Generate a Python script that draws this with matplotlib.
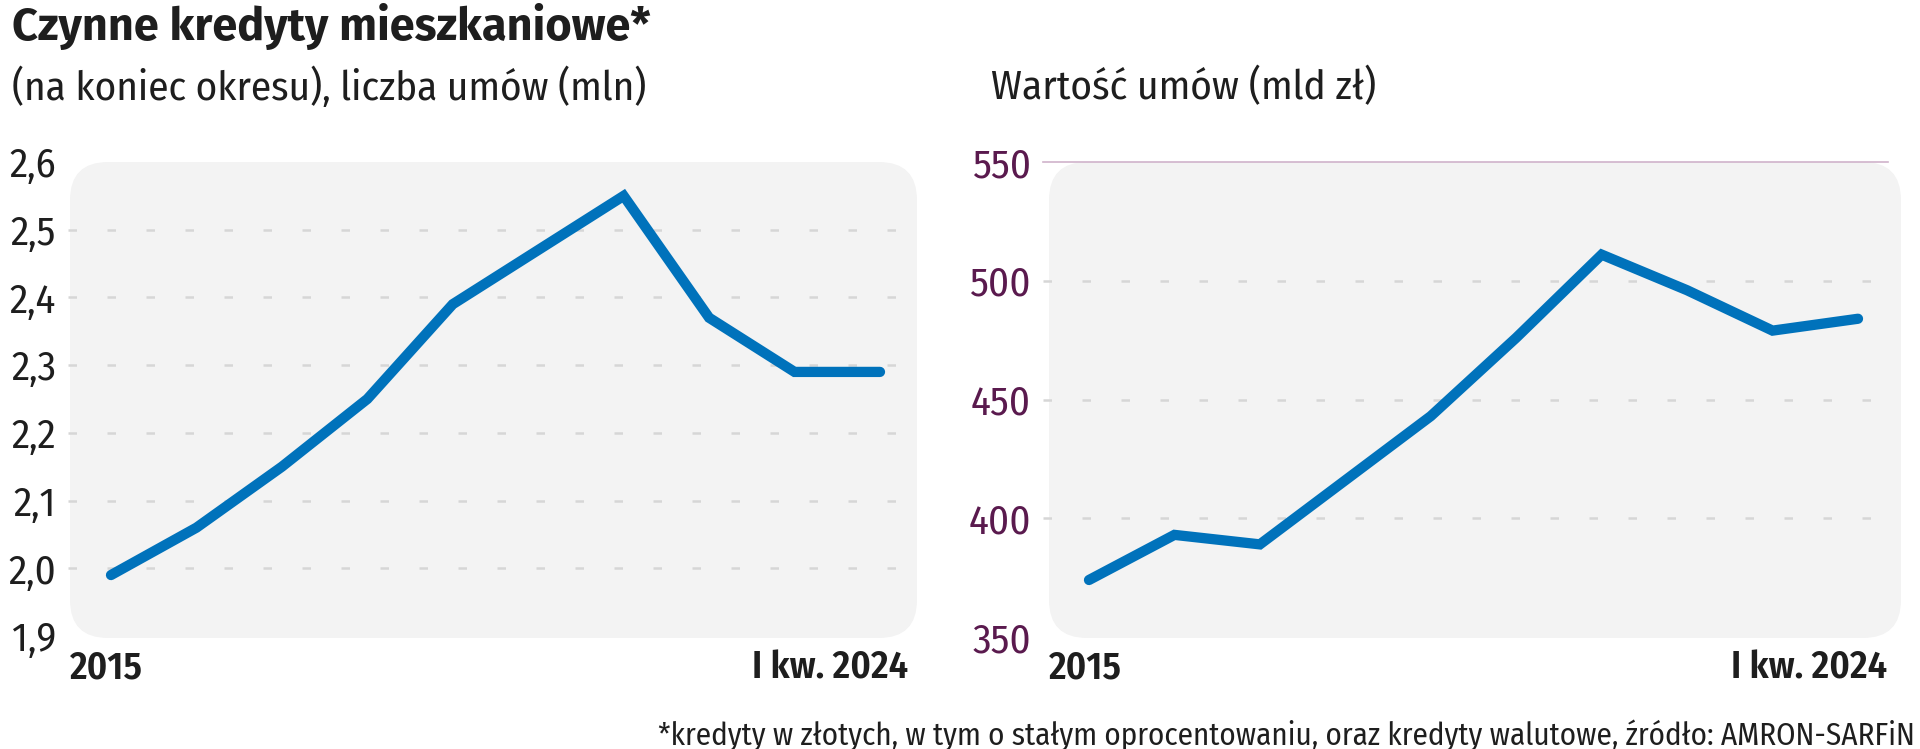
import matplotlib
matplotlib.use("Agg")
import matplotlib.pyplot as plt
from matplotlib import font_manager as fm
from matplotlib.patches import FancyBboxPatch
from matplotlib.transforms import IdentityTransform
from matplotlib.ticker import FuncFormatter

# ---------------- data ----------------
years = ["2015", "2016", "2017", "2018", "2019", "2020", "2021", "2022", "2023", "I kw. 2024"]
contracts_mln = [1.99, 2.06, 2.15, 2.25, 2.39, 2.47, 2.55, 2.37, 2.29, 2.29]
value_bln = [374, 393, 389, 416, 443, 476, 511, 496, 479, 484]
left_ticks = [1.9, 2.0, 2.1, 2.2, 2.3, 2.4, 2.5, 2.6]
right_ticks = [350, 400, 450, 500, 550]

title = "Czynne kredyty mieszkaniowe*"
subtitle_left = "(na koniec okresu), liczba umów (mln)"
subtitle_right = "Wartość umów (mld zł)"
footnote = "*kredyty w złotych, w tym o stałym oprocentowaniu, oraz kredyty walutowe, źródło: AMRON-SARFiN"

# ---------------- fonts ----------------
names = {f.name for f in fm.fontManager.ttflist}


def pick(*cands):
    for c in cands:
        if c in names:
            return c
    return "DejaVu Sans"


F_WIDE = pick("Fira Sans", "Roboto")
F_COND = pick("Fira Sans Condensed", "Roboto Condensed", "Roboto")

W, H = 1920, 749
DPI = 100
fig = plt.figure(figsize=(W / DPI, H / DPI), dpi=DPI)
fig.patch.set_facecolor("white")
ID = IdentityTransform()
renderer = fig.canvas.get_renderer()

LINE = "#0072bb"
BOX = "#f3f3f3"
GRID = "#d6d6d6"
PURPLE = "#5a1a4e"
TXT = "#1e1e1e"


def fit(t, target_w):
    w = t.get_window_extent(renderer).width
    t.set_fontsize(t.get_fontsize() * target_w / w)
    return t


def fitted_size(s, family, weight, target_w):
    t = fig.text(0, 0, s, family=family, fontweight=weight, fontsize=20)
    w = t.get_window_extent(renderer).width
    t.remove()
    return 20 * target_w / w


def px_axes(x0, x1, y_top, y_bot):
    return fig.add_axes([x0 / W, 1 - y_bot / H, (x1 - x0) / W, (y_bot - y_top) / H])


def rounded_box(x0, x1, y_top, y_bot, r=38):
    p = FancyBboxPatch((x0, H - y_bot), x1 - x0, y_bot - y_top,
                       boxstyle=f"round,pad=0,rounding_size={r}",
                       transform=ID, facecolor=BOX, edgecolor="none", zorder=-5)
    fig.patches.append(p)


TICK_FS = fitted_size("2,6", F_COND, "normal", 47)
XLAB_FS = fitted_size("I kw. 2024", F_COND, "semibold", 156)


def setup_axes(ax, xlim, ylim, ticks, fmt, color, pad):
    ax.set_xlim(*xlim)
    ax.set_ylim(*ylim)
    ax.patch.set_alpha(0)
    for s in ax.spines.values():
        s.set_visible(False)
    ax.set_xticks([])
    ax.set_yticks(ticks)
    ax.yaxis.set_major_formatter(FuncFormatter(fmt))
    ax.tick_params(axis="y", length=0, pad=pad, labelsize=TICK_FS, labelcolor=color)
    for lab in ax.get_yticklabels():
        lab.set_fontfamily(F_COND)
        lab.set_fontweight("normal")


# ---------------- left panel ----------------
LX0, LX1, TOP, BOT = 70, 917, 162, 638
rounded_box(LX0, LX1, TOP, BOT)
axL = px_axes(LX0, LX1, TOP, BOT)
ux = (880 - 111) / 9
uyL = (636 - 162) / 0.7
setup_axes(axL, (-(111 - LX0) / ux, 9 + (LX1 - 880) / ux),
           (2.6 - (BOT - TOP) / uyL, 2.6), left_ticks,
           lambda v, p: f"{v:.1f}".replace(".", ","), TXT, 14 * 0.72)
for v in left_ticks[1:-1]:
    axL.axhline(v, xmin=-2 / 847, xmax=0.994, color=GRID, lw=1.8,
                linestyle=(0, (3.4, 12.2)), clip_on=False, zorder=1)
axL.plot(range(len(years)), contracts_mln, color=LINE, lw=7.4,
         solid_capstyle="round", solid_joinstyle="miter", zorder=3)
axL.text(0, -0.063, years[0], transform=axL.transAxes, ha="left", va="center",
         fontsize=XLAB_FS, fontweight="semibold", family=F_COND, color=TXT)
axL.text(1 - 9 / 847, -0.063, years[-1], transform=axL.transAxes, ha="right", va="center",
         fontsize=XLAB_FS, fontweight="semibold", family=F_COND, color=TXT)

# ---------------- right panel ----------------
RX0, RX1 = 1049, 1901
rounded_box(RX0, RX1, TOP, BOT)
axR = px_axes(RX0, RX1, TOP, BOT)
uyR = (637 - 162) / 200
setup_axes(axR, (-(1089 - RX0) / ux, 9 + (RX1 - 1858) / ux),
           (550 - (BOT - TOP) / uyR, 550), right_ticks,
           lambda v, p: f"{v:.0f}", PURPLE, 18 * 0.72)
axR.axhline(550, xmin=-6 / 852, xmax=0.985, color="#cfb3cb", lw=1.2,
            clip_on=False, zorder=1)
for v in right_ticks[1:-1]:
    axR.axhline(v, xmin=-6 / 852, xmax=0.99, color=GRID, lw=1.8,
                linestyle=(0, (3.4, 12.2)), clip_on=False, zorder=1)
axR.plot(range(len(years)), value_bln, color=LINE, lw=7.4,
         solid_capstyle="round", solid_joinstyle="miter", zorder=3)
axR.text(0, -0.063, years[0], transform=axR.transAxes, ha="left", va="center",
         fontsize=XLAB_FS, fontweight="semibold", family=F_COND, color=TXT)
axR.text(1 - 14 / 852, -0.063, years[-1], transform=axR.transAxes, ha="right", va="center",
         fontsize=XLAB_FS, fontweight="semibold", family=F_COND, color=TXT)

# ---------------- titles ----------------
fit(fig.text(12, H - 27, title, transform=ID, ha="left", va="center",
             fontsize=30, fontweight="bold", family=F_WIDE, color=TXT), 640)
fit(fig.text(12, H - 88, subtitle_left, transform=ID, ha="left", va="center",
             fontsize=27, fontweight="normal", family=F_COND, color=TXT), 634)
fit(fig.text(991, H - 88, subtitle_right, transform=ID, ha="left", va="center",
             fontsize=27, fontweight="normal", family=F_COND, color=TXT), 385)
fit(fig.text(1915, H - 736, footnote, transform=ID, ha="right", va="center",
             fontsize=19, fontweight="normal", family=F_COND, color=TXT), 1257)

fig.savefig("out.png", dpi=DPI, facecolor="white")
